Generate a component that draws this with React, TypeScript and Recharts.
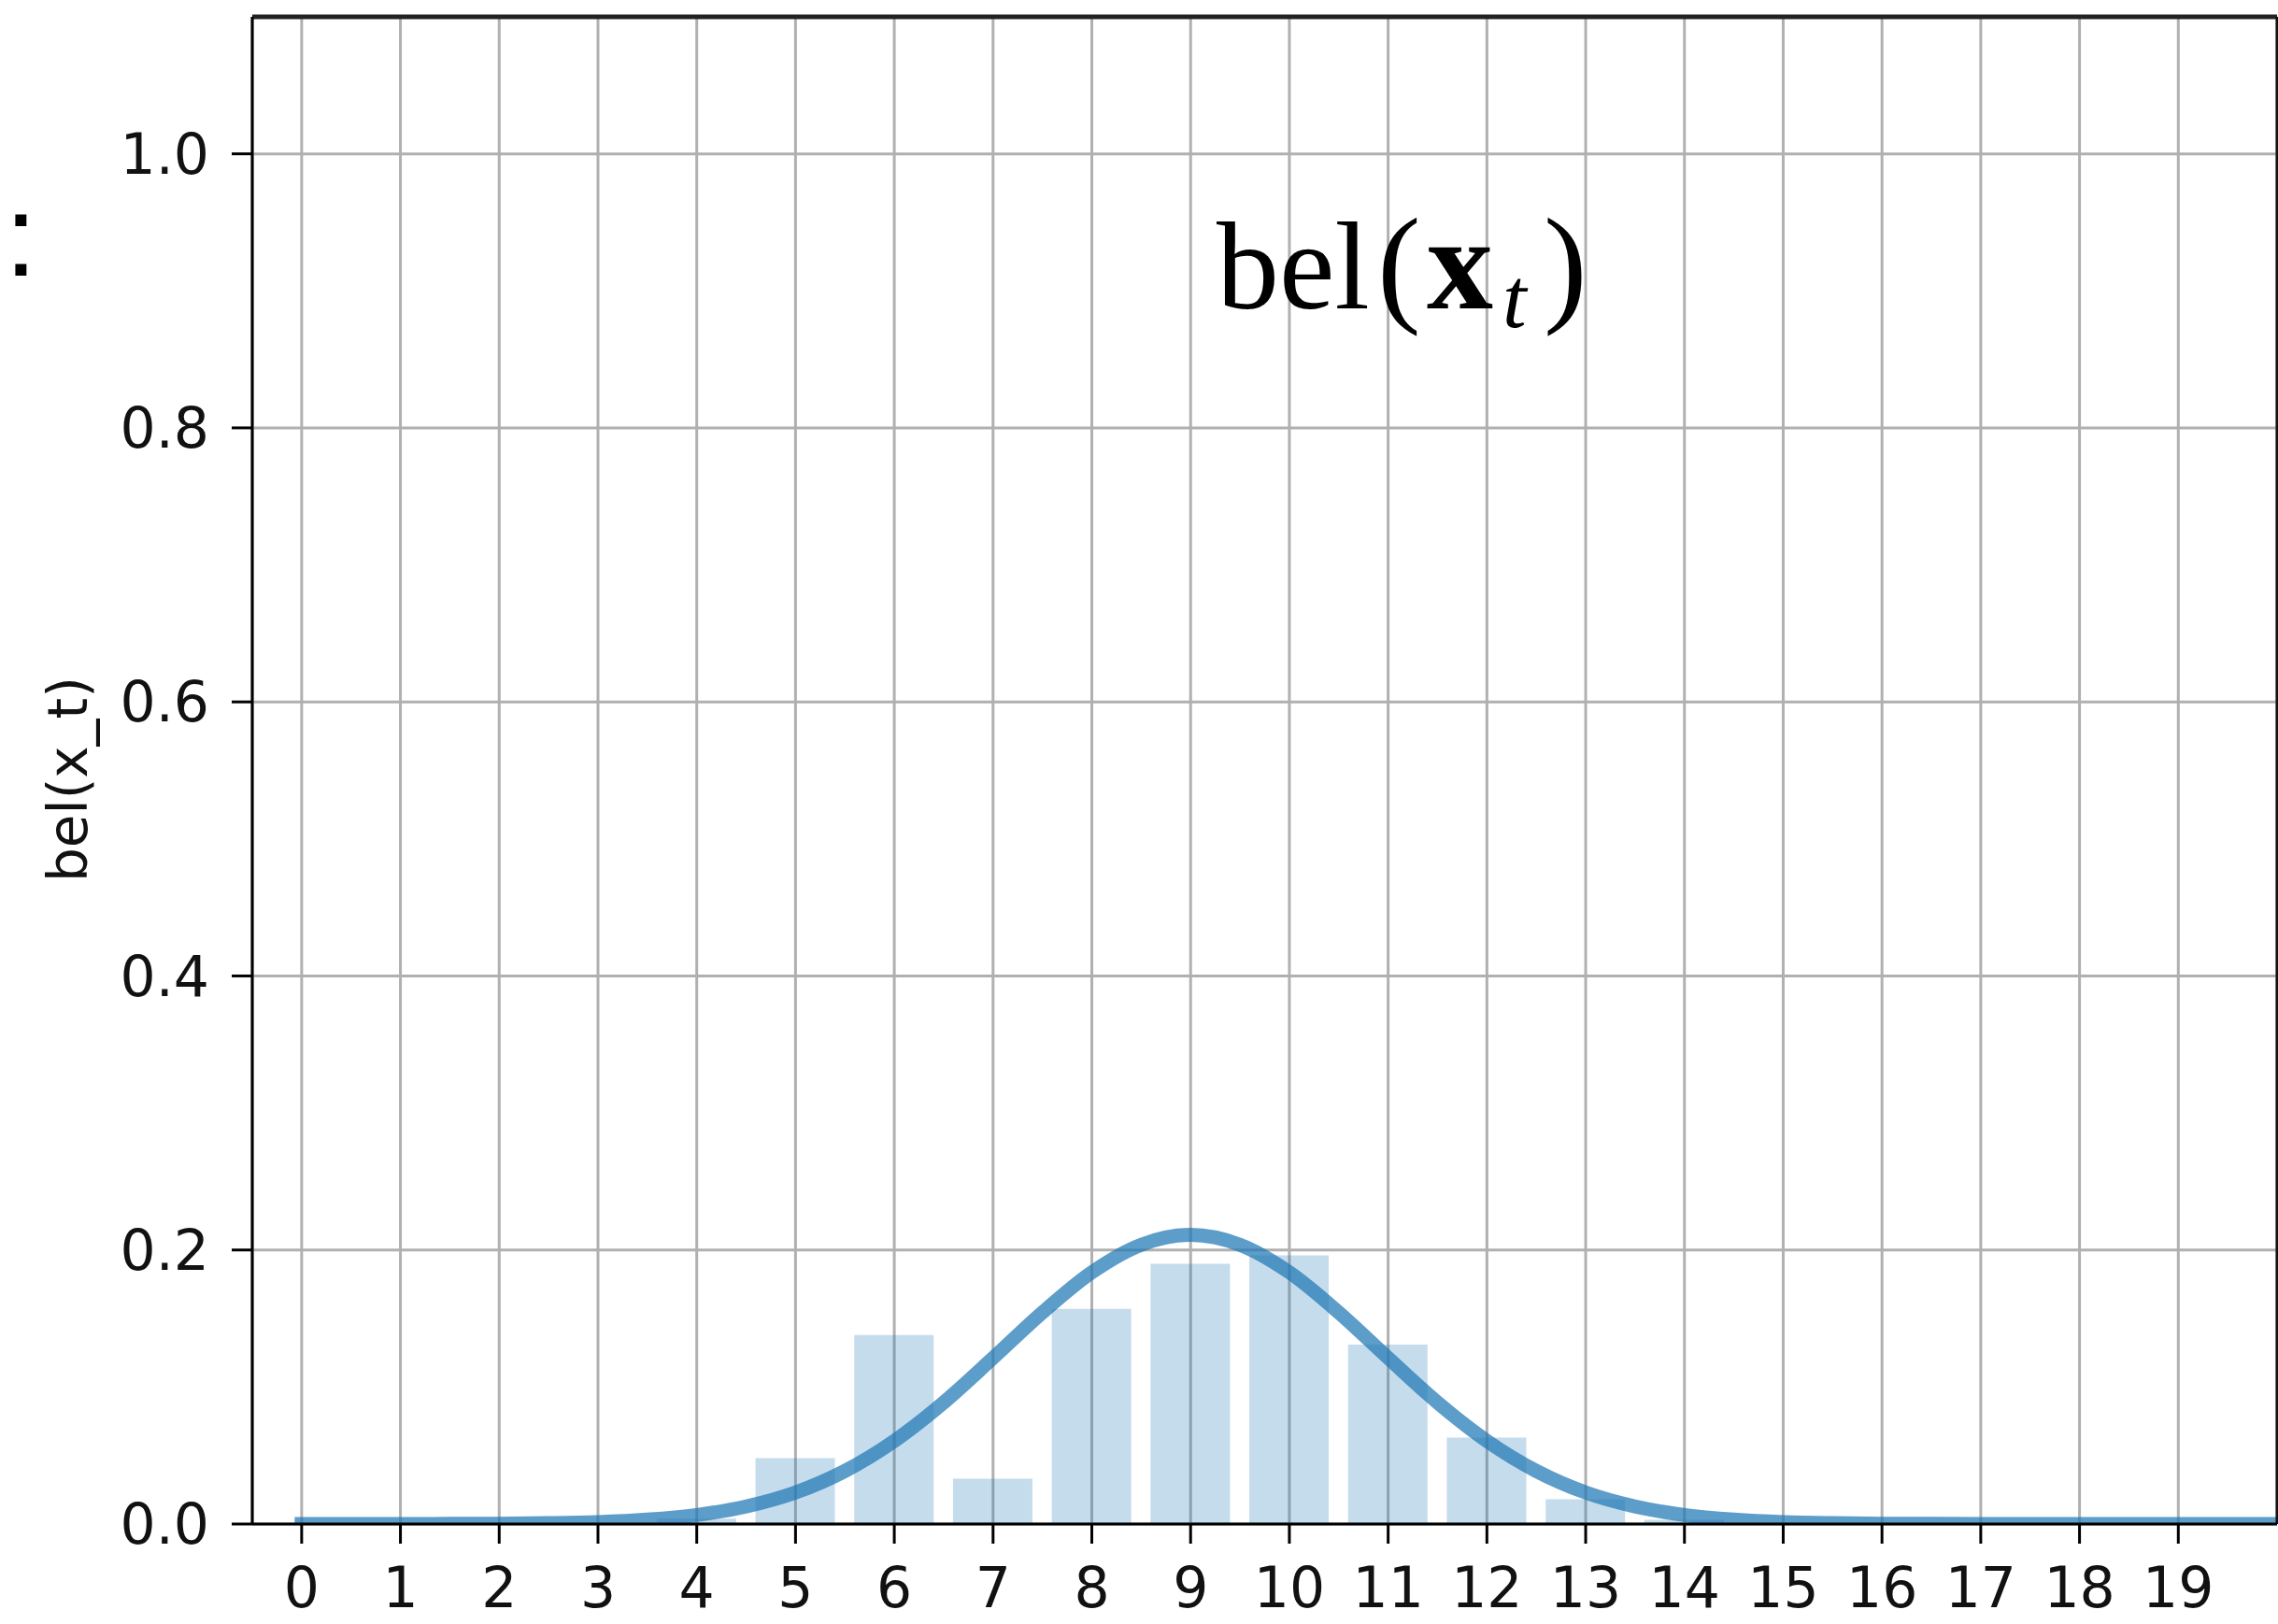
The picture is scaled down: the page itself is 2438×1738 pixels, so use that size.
import React from "react";
import {
  ComposedChart,
  Bar,
  Line,
  XAxis,
  YAxis,
  CartesianGrid,
  ReferenceLine,
} from "recharts";

// histogram of the belief, one bar per cell
const cells = [0, 1, 2, 3, 4, 5, 6, 7, 8, 9, 10, 11, 12, 13, 14, 15, 16, 17, 18, 19];
const belValues = [
  0, 0, 0, 0, 0.004, 0.048, 0.138, 0.033, 0.157, 0.19, 0.196, 0.131, 0.063,
  0.018, 0.003, 0, 0, 0, 0, 0,
];

// smooth gaussian fit
const curveX = [
  0, 0.5, 1, 1.5, 2, 2.5, 3, 3.5, 4, 4.5, 5, 5.5, 6, 6.5, 7, 7.5, 8, 8.5, 9,
  9.5, 10, 10.5, 11, 11.5, 12, 12.5, 13, 13.5, 14, 14.5, 15, 15.5, 16, 16.5, 17,
  17.5, 18, 18.5, 19, 19.5, 20,
];
const curveValues = [
  0, 0, 0, 0.0001, 0.0002, 0.0006, 0.0014, 0.0032, 0.0066, 0.0128, 0.023,
  0.0387, 0.0606, 0.0887, 0.1212, 0.1544, 0.1837, 0.2038, 0.211, 0.2038, 0.1837,
  0.1544, 0.1212, 0.0887, 0.0606, 0.0387, 0.023, 0.0128, 0.0066, 0.0032, 0.0014,
  0.0006, 0.0002, 0.0001, 0, 0, 0, 0, 0, 0, 0,
];

const yTicks = [0, 0.2, 0.4, 0.6, 0.8, 1.0];
const xDomain = [-0.5, 20];
const yDomain = [0, 1.1];

const barData = cells.map((x, i) => ({ x, bel: belValues[i] }));
const curveData = curveX.map((x, i) => ({ x, curve: curveValues[i] }));

const tickStyle = { fill: "#111", fontSize: 60, fontFamily: "DejaVu Sans" };
const axisLine = { stroke: "#000", strokeWidth: 3 };

export default function App() {
  return (
    <div
      style={{
        position: "absolute",
        left: 0,
        top: 0,
        width: 2438,
        height: 1738,
        background: "#fff",
        overflow: "hidden",
      }}
    >
      <ComposedChart
        width={2438}
        height={1738}
        data={barData}
        margin={{ top: 18, right: 1, bottom: 0, left: 0 }}
      >
        <CartesianGrid stroke="#b0b0b0" strokeWidth={3} />
        <XAxis
          dataKey="x"
          type="number"
          domain={xDomain}
          ticks={cells}
          allowDataOverflow
          interval={0}
          height={107}
          tickSize={21}
          tickMargin={25}
          tick={tickStyle}
          axisLine={axisLine}
          tickLine={axisLine}
        />
        <XAxis
          xAxisId="curve"
          dataKey="x"
          type="number"
          domain={xDomain}
          allowDataOverflow
          hide
        />
        <YAxis
          type="number"
          domain={yDomain}
          ticks={yTicks}
          allowDataOverflow
          interval={0}
          width={270}
          tickSize={22}
          tickMargin={24}
          tickFormatter={(v: number) => v.toFixed(1)}
          tick={tickStyle}
          axisLine={axisLine}
          tickLine={axisLine}
        />
        <Bar
          dataKey="bel"
          fill="#1f77b4"
          fillOpacity={0.26}
          barSize={85}
          isAnimationActive={false}
        />
        <Line
          xAxisId="curve"
          data={curveData}
          dataKey="curve"
          type="monotone"
          stroke="#1f77b4"
          strokeOpacity={0.72}
          strokeWidth={15}
          strokeLinecap="square"
          dot={false}
          activeDot={false}
          isAnimationActive={false}
        />
        <ReferenceLine y={1.1} stroke="#222" strokeWidth={5} ifOverflow="visible" />
        <ReferenceLine x={20} stroke="#111" strokeWidth={3} ifOverflow="visible" />
      </ComposedChart>
      <svg
        width={2438}
        height={1738}
        style={{ position: "absolute", left: 0, top: 0, pointerEvents: "none" }}
      >
        <text x={5} y={295} fontFamily="Liberation Sans" fontSize={125} fill="#000">
          :
        </text>
        <text
          x={93}
          y={834}
          transform="rotate(-90, 93, 834)"
          textAnchor="middle"
          fontFamily="DejaVu Sans"
          fontSize={58}
          fill="#111"
        >
          bel(x_t)
        </text>
        <text y={330} fontFamily="Liberation Serif" fontSize={134} fill="#000">
          <tspan x={1302}>bel</tspan>
          <tspan x={1474} fontSize={140}>(</tspan>
          <tspan x={1527} fontSize={142} fontWeight="bold">x</tspan>
          <tspan x={1608} dy={20} fontSize={92} fontStyle="italic">t</tspan>
          <tspan x={1652} dy={-20} fontSize={140}>)</tspan>
        </text>
      </svg>
    </div>
  );
}
